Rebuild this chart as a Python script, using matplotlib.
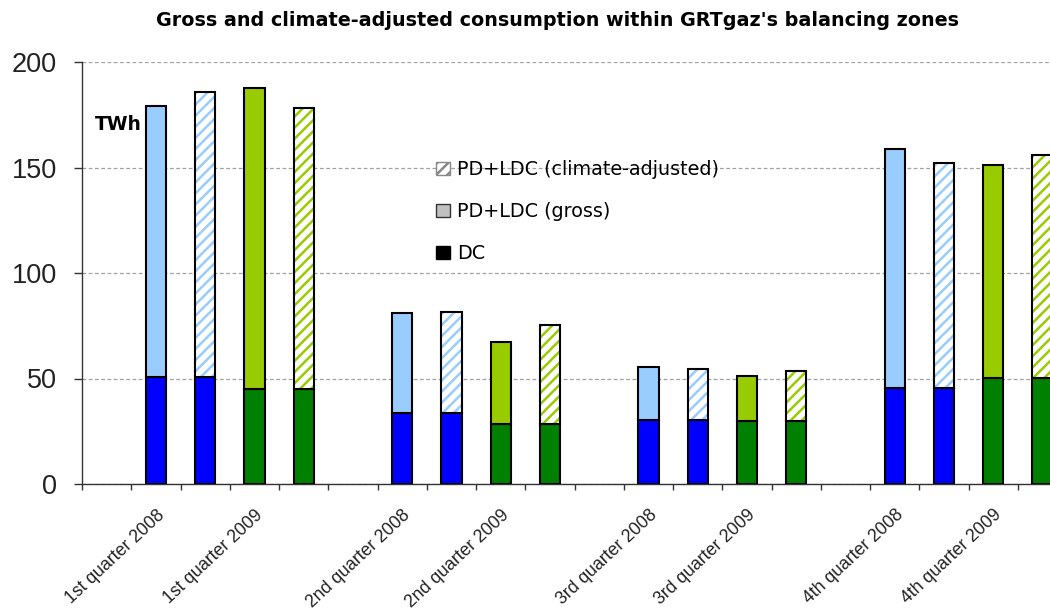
import matplotlib
matplotlib.use("Agg")
import matplotlib.pyplot as plt
from matplotlib.patches import Patch
from matplotlib.transforms import ScaledTranslation
import numpy as np

plt.rcParams["font.family"] = ["Liberation Sans", "DejaVu Sans"]
plt.rcParams["hatch.linewidth"] = 1.8

# Quarterly consumption (TWh): distribution customers (DC) and PD+LDC part
quarters = ["1st quarter", "2nd quarter", "3rd quarter", "4th quarter"]
years = ["2008", "2009"]

dc_2008 = [50.6, 33.6, 30.2, 45.3]
pdldc_2008_gross = [128.7, 47.4, 25.4, 113.5]
pdldc_2008_adjusted = [135.2, 47.9, 24.3, 107.0]

dc_2009 = [45.0, 28.6, 30.0, 50.1]
pdldc_2009_gross = [142.8, 38.8, 21.4, 100.9]
pdldc_2009_adjusted = [133.2, 46.6, 23.7, 105.8]

legend_labels = ["PD+LDC (climate-adjusted)", "PD+LDC (gross)", "DC"]

colors = {
    "2008": {"dc": "#0000FF", "pd": "#99CCFF"},
    "2009": {"dc": "#008000", "pd": "#99CC00"},
}

fig = plt.figure(figsize=(10.5, 6.1), dpi=100)
W, H = 1050, 610
ax = fig.add_axes([82 / W, (H - 484) / H, (W - 82) / W, (484 - 62) / H])

slot_px = 49.26
n_slots = 20

bar_w = 0.41
edge_lw = 1.5

series = [
    ("2008", dc_2008, pdldc_2008_gross, pdldc_2008_adjusted),
    ("2009", dc_2009, pdldc_2009_gross, pdldc_2009_adjusted),
]

tick_pos = []
tick_lab = []
for q, qname in enumerate(quarters):
    base = 1 + 5 * q
    for yi, (yr, dc, gross, adj) in enumerate(series):
        c = colors[yr]
        x_g = base + 2 * yi
        x_a = x_g + 1
        tick_pos.append(x_g)
        tick_lab.append(f"{qname} {yr}")
        # gross bar: DC + PD+LDC
        ax.bar(x_g, dc[q], bar_w, color=c["dc"], edgecolor="black",
               linewidth=edge_lw, zorder=3)
        ax.bar(x_g, gross[q], bar_w, bottom=dc[q], color=c["pd"],
               edgecolor="black", linewidth=edge_lw, zorder=3)
        # climate-adjusted bar: DC + hatched PD+LDC
        ax.bar(x_a, dc[q], bar_w, color=c["dc"], edgecolor="black",
               linewidth=edge_lw, zorder=3)
        ax.bar(x_a, adj[q], bar_w, bottom=dc[q], color="white",
               edgecolor=c["pd"], hatch="///", linewidth=0, zorder=3)
        ax.bar(x_a, adj[q], bar_w, bottom=dc[q], color="none",
               edgecolor="black", linewidth=edge_lw, zorder=4)

# axes styling
for s in ["top", "right"]:
    ax.spines[s].set_visible(False)
for s in ["left", "bottom"]:
    ax.spines[s].set_color("#333333")
    ax.spines[s].set_linewidth(1.0)
    ax.spines[s].set_zorder(5)

ax.set_yticks([0, 50, 100, 150, 200])
ax.tick_params(axis="y", labelsize=19.5, length=6, width=1, pad=12,
               color="#333333", labelcolor="#222222")
ax.yaxis.grid(True, linestyle=(0, (3, 2)), color="#A0A0A0", linewidth=0.9,
              zorder=0)
ax.set_axisbelow(True)

ax.set_xticks(np.arange(n_slots + 1) - 0.5)
ax.set_xticklabels([])
ax.tick_params(axis="x", which="major", length=4.5, width=1, color="#333333")
ax.set_xticks(tick_pos, minor=True)
ax.set_xticklabels(tick_lab, minor=True, rotation=43, ha="right",
                   va="baseline", rotation_mode="anchor", fontsize=12.7,
                   color="#222222")
ax.tick_params(axis="x", which="minor", length=0, pad=23)
shift = ScaledTranslation(9 / 100, 0, fig.dpi_scale_trans)
for lab in ax.get_xticklabels(minor=True):
    lab.set_transform(lab.get_transform() + shift)

# view limits last, so the tick setters do not widen them
ax.set_xlim(-0.5, -0.5 + (W - 82) / slot_px)
ax.set_ylim(0, 200)

ax.text(13 / (W - 82), (484 - 125) / 422, "TWh", transform=ax.transAxes,
        fontsize=13.5, fontweight="bold", ha="left", va="center",
        family="DejaVu Sans")

fig.text(557 / W, 1 - 20 / H,
         "Gross and climate-adjusted consumption within GRTgaz's balancing zones",
         ha="center", va="center", fontsize=13.8, fontweight="bold",
         family="DejaVu Sans")

handles = [
    Patch(facecolor="white", edgecolor="#888888", hatch="///"),
    Patch(facecolor="#C0C0C0", edgecolor="#333333"),
    Patch(facecolor="black", edgecolor="black"),
]
leg = fig.legend(handles, legend_labels, loc="upper left",
                 bbox_to_anchor=(436 / W, 1 - 160 / H), frameon=False,
                 prop={"family": "DejaVu Sans", "size": 13.8},
                 handlelength=0.75, handleheight=0.65,
                 handletextpad=0.35, labelspacing=1.21, borderpad=0,
                 borderaxespad=0)

fig.savefig("out.png", dpi=100)
